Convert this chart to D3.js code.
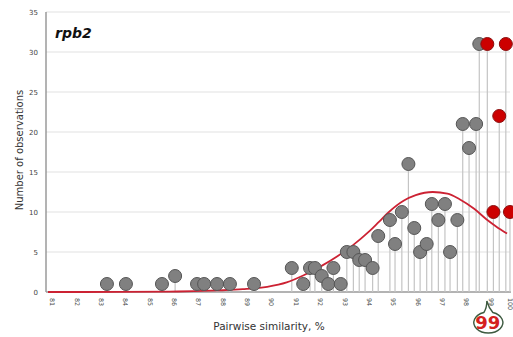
<!DOCTYPE html>
<html>
<head>
<meta charset="utf-8">
<script src="https://cdn.jsdelivr.net/npm/d3@7"></script>
<style>
  body { margin: 0; background: #fff; }
  svg { display: block; font-family: "DejaVu Sans", sans-serif; }
</style>
</head>
<body>
<svg id="chart" width="513" height="337"></svg>
<script>
// observations (pairwise similarity %, count)
const grayX = [83.42, 84.2, 85.68, 86.22, 87.12, 87.41, 87.94, 88.47, 89.46,
  91.01, 91.48, 91.76, 91.96, 92.24, 92.51, 92.72, 93.02, 93.27, 93.54, 93.78,
  94.02, 94.33, 94.56, 95.04, 95.25, 95.53, 95.80, 96.04, 96.28, 96.55, 96.76,
  97.03, 97.30, 97.51, 97.81, 98.03, 98.29, 98.58, 98.71];
const grayY = [1, 1, 1, 2, 1, 1, 1, 1, 1,
  3, 1, 3, 3, 2, 1, 3, 1, 5, 5, 4,
  4, 3, 7, 9, 6, 10, 16, 8, 5, 6, 11,
  9, 11, 5, 9, 21, 18, 21, 31];
const redX = [99.04, 99.29, 99.53, 99.80, 99.97];
const redY = [31, 10, 22, 31, 10];

// fitted curve
const curveX = [81, 84, 86, 87, 88, 89, 90, 90.8, 91.5, 92.2, 92.9, 93.5, 94.2,
  94.6, 95.0, 95.6, 96.1, 96.8, 97.4, 97.9, 98.5, 99.0, 99.4, 99.85];
const curveY = [0, 0.01, 0.05, 0.1, 0.2, 0.35, 0.65, 1.2, 2.1, 3.2, 4.5, 5.8, 7.6,
  8.8, 10.0, 11.4, 12.1, 12.5, 12.3, 11.6, 10.4, 9.1, 8.2, 7.3];

const yTicks = [0, 5, 10, 15, 20, 25, 30, 35];
const xTicks = d3.range(81, 101);

const svg = d3.select("#chart");
const x = d3.scaleLinear().domain([81, 100]).range([48, 510.7]);
const y = d3.scaleLinear().domain([0, 35]).range([292, 12]);

// gridlines
svg.append("g").selectAll("line")
  .data(yTicks.filter(d => d > 0))
  .enter().append("line")
  .attr("x1", 46).attr("x2", 510)
  .attr("y1", d => y(d)).attr("y2", d => y(d))
  .attr("stroke", "#e2e2e2").attr("stroke-width", 1.2);

// axes lines
svg.append("line").attr("x1", 46).attr("x2", 46).attr("y1", y(35)).attr("y2", y(0))
  .attr("stroke", "#8a8a8a").attr("stroke-width", 1.3);
svg.append("line").attr("x1", 46).attr("x2", 511).attr("y1", y(0)).attr("y2", y(0))
  .attr("stroke", "#9a9a9a").attr("stroke-width", 1.3);

// y tick labels
svg.append("g").selectAll("text")
  .data(yTicks)
  .enter().append("text")
  .attr("x", 38).attr("y", d => y(d) + 2.5)
  .attr("text-anchor", "end")
  .attr("font-size", 7).attr("fill", "#444")
  .text(d => d);

// x tick labels (rotated); last one pulled in so it stays on the page
svg.append("g").selectAll("text")
  .data(xTicks)
  .enter().append("text")
  .attr("transform", d => "translate(" + Math.min(x(d) + 2.3, 508) + ",298) rotate(90)")
  .attr("font-size", 6.3).attr("fill", "#444")
  .text(d => d);

// stems
const pts = grayX.map((v, i) => ({ v: v, n: grayY[i], red: false }))
  .concat(redX.map((v, i) => ({ v: v, n: redY[i], red: true })));
svg.append("g").selectAll("line")
  .data(pts)
  .enter().append("line")
  .attr("x1", d => x(d.v)).attr("x2", d => x(d.v))
  .attr("y1", y(0)).attr("y2", d => y(d.n))
  .attr("stroke", "#c4c4c4").attr("stroke-width", 1.2);

// fitted curve
const line = d3.line()
  .x((d, i) => x(curveX[i]))
  .y((d, i) => y(curveY[i]))
  .curve(d3.curveMonotoneX);
svg.append("path")
  .attr("d", line(curveX))
  .attr("fill", "none")
  .attr("stroke", "#cc2233").attr("stroke-width", 1.8);

// points
svg.append("g").selectAll("circle")
  .data(pts)
  .enter().append("circle")
  .attr("cx", d => x(d.v)).attr("cy", d => y(d.n))
  .attr("r", 6.5)
  .attr("fill", d => d.red ? "#cc0000" : "#808080")
  .attr("stroke", d => d.red ? "#8a1010" : "#555")
  .attr("stroke-width", 1);

// title
svg.append("text")
  .attr("x", 55).attr("y", 38)
  .attr("font-size", 14).attr("font-weight", "bold").attr("font-style", "italic")
  .attr("fill", "#111")
  .text("rpb2");

// axis titles
svg.append("text")
  .attr("x", 269).attr("y", 330)
  .attr("text-anchor", "middle")
  .attr("font-size", 10.5).attr("fill", "#333")
  .text("Pairwise similarity, %");
svg.append("text")
  .attr("transform", "translate(23,150) rotate(-90)")
  .attr("text-anchor", "middle")
  .attr("font-size", 10).attr("fill", "#333")
  .text("Number of observations");

// 99 callout
const cx = x(99) + 1.5, cy = 322;
svg.append("path")
  .attr("d", "M" + (cx - 4) + "," + (cy - 9.5) +
    " Q" + (cx - 1) + "," + (cy - 14) + " " + (cx - 1) + "," + (cy - 21) +
    " Q" + (cx + 1) + "," + (cy - 14) + " " + (cx + 5) + "," + (cy - 9.5) +
    " A14.5,10.5 0 1 1 " + (cx - 4) + "," + (cy - 9.5) + " Z")
  .attr("fill", "#fff")
  .attr("stroke", "#3d5a40").attr("stroke-width", 1.4);
svg.append("text")
  .attr("x", cx).attr("y", cy + 6.5)
  .attr("text-anchor", "middle")
  .attr("font-size", 18).attr("font-weight", "bold")
  .attr("fill", "#d42020")
  .text("99");
</script>
</body>
</html>
